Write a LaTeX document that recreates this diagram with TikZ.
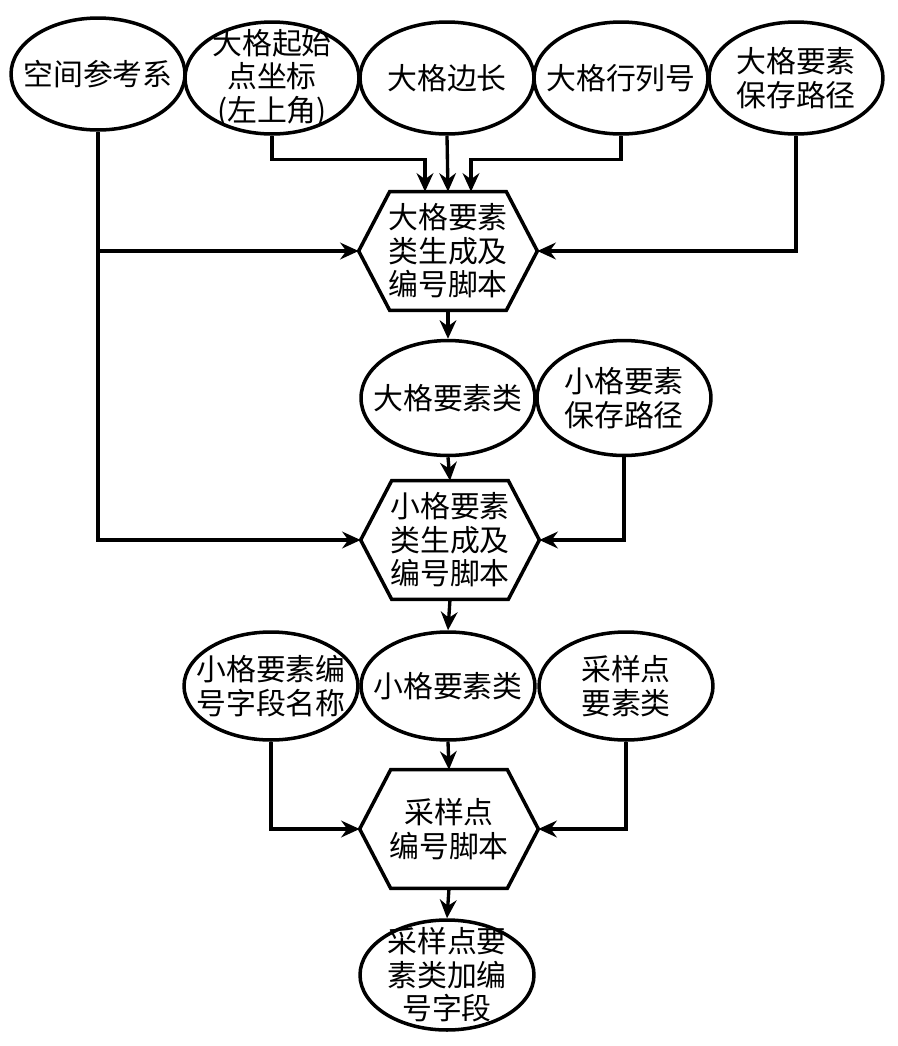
\documentclass[tikz,border=0pt]{standalone}
\usepackage{fontspec}
\setmainfont{Noto Sans CJK SC}
\usetikzlibrary{arrows.meta,positioning,calc,shapes.geometric}
\tikzset{
  >=Stealth,
  obj/.style={ellipse,draw,line width=2pt,inner sep=-10mm,minimum width=3.48cm,minimum height=2.24cm,align=center,font=\fontsize{17}{19}\selectfont},
  script/.style={rectangle,inner sep=0pt,minimum width=3.56cm,minimum height=2.36cm,align=center,font=\fontsize{17}{19}\selectfont},
  tr/.style={-{Stealth[length=10.5pt,width=9.5pt]}, line width=1.9pt},
  hexline/.style={line width=2pt, line join=miter}
}

\begin{document}
\begin{tikzpicture}[x=0.02cm,y=-0.02cm]
    \useasboundingbox (0,0) rectangle (898,1046);

    % Inputs of the large grid script
    \node[obj] (ref) at (98,74) {空间参考系};
    \node[obj] (orig) at (272,78) {大格起始\\点坐标\\(左上角)};
    \node[obj] (side) at (447,78) {大格边长};
    \node[obj] (rowcol) at (621,78) {大格行列号};
    \node[obj] (bpath) at (796,78) {大格要素\\保存路径};

    % Scripts
    \node[script] (h1) at (448,251) {大格要素\\类生成及\\编号脚本};
    \node[script] (h2) at (450,540) {小格要素\\类生成及\\编号脚本};
    \node[script] (h3) at (449,829) {采样点\\编号脚本};
    \foreach \h in {h1,h2,h3}
      \draw[hexline] (\h.west) -- ($(\h.north west)+(31,0)$) -- ($(\h.north east)+(-31,0)$)
        -- (\h.east) -- ($(\h.south east)+(-31,0)$) -- ($(\h.south west)+(31,0)$) -- cycle;

    % Intermediate data
    \node[obj, minimum height=2.3cm] (bigfc) at (448,398) {大格要素类};
    \node[obj, minimum height=2.3cm] (spath) at (624,398) {小格要素\\保存路径};
    \node[obj, minimum height=2.16cm] (field) at (271,686) {小格要素编\\号字段名称};
    \node[obj, minimum height=2.16cm] (smallfc) at (448,686) {小格要素类};
    \node[obj, minimum height=2.16cm] (pts) at (626,686) {采样点\\要素类};
    \node[obj, minimum height=2.2cm] (result) at (447,975) {采样点要\\素类加编\\号字段};

    % Into the large grid script
    \draw[tr] (orig.south) -- ++(0,24) -| ($(h1.north)+(-23,0)$);
    \draw[tr] (side.south) -- (h1.north);
    \draw[tr] (rowcol.south) -- ++(0,24) -| ($(h1.north)+(23,0)$);
    \draw[tr] (bpath.south) |- (h1.east);
    \draw[tr] (ref.south) |- (h2.west);
    \draw[tr] (ref.south |- h1.west) -- (h1.west);

    % Into the small grid script
    \draw[tr] (h1.south) -- (bigfc.north);
    \draw[tr] (bigfc.south) -- (h2.north);
    \draw[tr] (spath.south) |- (h2.east);

    % Into the sample point script
    \draw[tr] (h2.south) -- (smallfc.north);
    \draw[tr] (field.south) |- (h3.west);
    \draw[tr] (smallfc.south) -- (h3.north);
    \draw[tr] (pts.south) |- (h3.east);
    \draw[tr] (h3.south) -- (result.north);
\end{tikzpicture}
\end{document}
